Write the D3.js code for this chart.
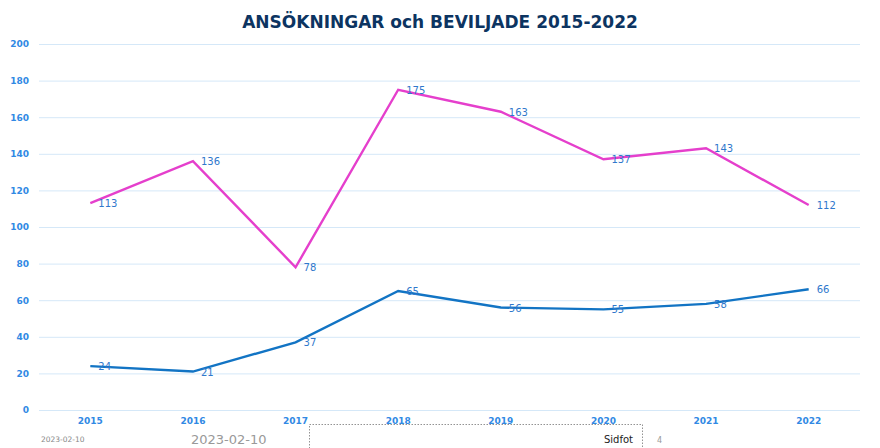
<!DOCTYPE html>
<html>
<head>
<meta charset="utf-8">
<script src="https://cdn.jsdelivr.net/npm/d3@7"></script>
<style>
  body { margin: 0; background: #fff; }
  svg { display: block; }
</style>
</head>
<body>
<svg width="880" height="448"></svg>
<script>
const years = ['2015', '2016', '2017', '2018', '2019', '2020', '2021', '2022'];
const ansokningar = [113, 136, 78, 175, 163, 137, 143, 112];
const beviljade = [24, 21, 37, 65, 56, 55, 58, 66];
const yTicks = [0, 20, 40, 60, 80, 100, 120, 140, 160, 180, 200];

const font = "'DejaVu Sans', Verdana, sans-serif";

const svg = d3.select('svg')
    .attr('font-family', font);
const width = +svg.attr('width');
const height = +svg.attr('height');

const margin = { top: 44, right: 20, bottom: 38, left: 39 };
const innerWidth = width - margin.left - margin.right;
const innerHeight = height - margin.top - margin.bottom;

const xScale = d3.scaleBand()
    .domain(years)
    .range([0, innerWidth]);

const yScale = d3.scaleLinear()
    .domain([0, 200])
    .range([innerHeight, 0]);

const g = svg.append('g')
    .attr('transform', `translate(${margin.left}, ${margin.top})`);

const styleAxis = sel => {
    sel.attr('font-family', font);
    sel.select('.domain').remove();
    sel.selectAll('.tick line').attr('stroke', '#d5e8f8');
    sel.selectAll('.tick text')
        .attr('fill', '#3189e4')
        .attr('font-size', '9px')
        .attr('font-weight', 'bold');
};

const yAxisG = g.append('g')
    .call(d3.axisLeft(yScale).tickValues(yTicks).tickSize(-innerWidth).tickPadding(10))
    .call(styleAxis);

const xAxisG = g.append('g')
    .attr('transform', `translate(0, ${innerHeight})`)
    .call(d3.axisBottom(xScale).tickSize(0).tickPadding(8))
    .call(styleAxis);

const xPos = d => xScale(d) + xScale.bandwidth() / 2;

const series = [
    { values: ansokningar, color: '#e53fcc' },
    { values: beviljade, color: '#1274c4' }
];

const line = d3.line()
    .x((d, i) => xPos(years[i]))
    .y(d => yScale(d));

series.forEach(s => {
    g.append('path')
        .datum(s.values)
        .attr('fill', 'none')
        .attr('stroke', s.color)
        .attr('stroke-width', 2.4)
        .attr('d', line);

    g.selectAll(null).data(s.values)
        .enter().append('text')
            .attr('x', (d, i) => xPos(years[i]) + 8)
            .attr('y', d => yScale(d) + 4)
            .attr('fill', '#2f78cc')
            .attr('font-size', '10px')
            .text(d => d);
});

svg.append('text')
    .attr('x', width / 2)
    .attr('y', 28)
    .attr('text-anchor', 'middle')
    .attr('fill', '#0c3461')
    .attr('font-size', '17px')
    .attr('font-weight', 'bold')
    .text('ANSÖKNINGAR och BEVILJADE 2015-2022');

// footer
svg.append('rect')
    .attr('x', 309.5).attr('y', 424.5)
    .attr('width', 333).attr('height', 30)
    .attr('fill', 'none')
    .attr('stroke', '#777')
    .attr('stroke-width', 0.8)
    .attr('stroke-dasharray', '1.5,1.5');

svg.append('text')
    .attr('x', 41).attr('y', 442)
    .attr('fill', '#888').attr('font-size', '7.5px')
    .text('2023-02-10');

svg.append('text')
    .attr('x', 191).attr('y', 444)
    .attr('fill', '#999').attr('font-size', '13px')
    .text('2023-02-10');

svg.append('text')
    .attr('x', 633).attr('y', 443)
    .attr('text-anchor', 'end')
    .attr('fill', '#222').attr('font-size', '10px')
    .text('Sidfot');

svg.append('text')
    .attr('x', 657).attr('y', 443)
    .attr('fill', '#999').attr('font-size', '8px')
    .text('4');
</script>
</body>
</html>
